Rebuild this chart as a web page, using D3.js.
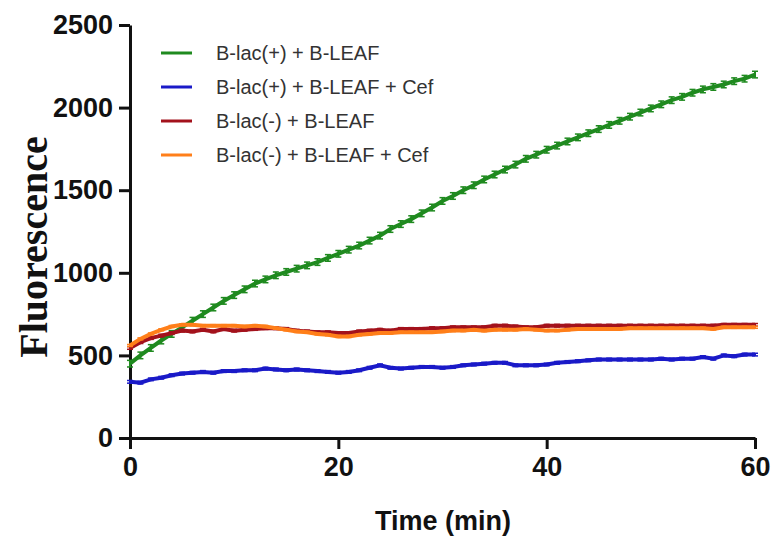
<!DOCTYPE html>
<html><head><meta charset="utf-8">
<script src="https://cdn.jsdelivr.net/npm/d3@7"></script>
<style>body{margin:0;background:#fff;} svg{display:block;}</style>
</head><body><svg id="c" width="773" height="543"></svg>
<script>
const time = d3.range(0, 61); // minutes
const seriesNames = ["B-lac(+) + B-LEAF", "B-lac(+) + B-LEAF + Cef", "B-lac(-) + B-LEAF", "B-lac(-) + B-LEAF + Cef"];
const seriesColors = ["#1f8a1f", "#1a1ac8", "#a3121c", "#ff7f1a"];
const greenVals = [450,500,545,590,630,670,710,750,790,830,865,900,935,960,985,1005,1025,1045,1065,1090,1115,1140,1165,1195,1225,1265,1295,1325,1360,1395,1435,1465,1500,1530,1565,1595,1625,1655,1690,1715,1745,1770,1795,1820,1845,1870,1895,1920,1945,1970,1995,2020,2045,2065,2090,2110,2125,2140,2160,2175,2200];
const blueVals = [340,335,355,365,380,390,395,400,395,405,405,410,410,420,415,410,415,410,405,400,395,400,410,425,440,425,420,425,430,430,425,430,440,445,450,455,455,440,440,440,445,455,460,465,470,475,475,475,475,475,475,480,475,480,480,490,480,500,495,505,505];
const redVals = [545,580,605,620,635,650,645,655,645,660,650,655,660,665,665,660,650,645,640,640,635,635,645,650,655,650,660,660,660,665,665,670,670,670,670,680,680,675,670,670,680,680,680,680,680,680,680,680,680,680,680,680,680,680,680,680,680,685,685,685,685];
const orangeVals = [560,600,630,655,675,685,685,680,680,680,680,675,680,675,665,655,645,640,630,625,615,615,625,630,635,635,640,640,640,640,645,650,650,655,650,655,655,655,660,655,650,650,655,660,660,660,660,660,665,665,665,665,665,665,665,665,660,670,670,670,670];
const seriesVals = [greenVals, blueVals, redVals, orangeVals];
const errBar = [20, 8, 8, 6];
const xTicks = [0, 20, 40, 60];
const yTicks = [0, 500, 1000, 1500, 2000, 2500];

const svg = d3.select("#c");
const x = d3.scaleLinear().domain([0, 60]).range([130, 755]);
const y = d3.scaleLinear().domain([0, 2500]).range([438, 25]);

// axes
const yAxis = svg.append("g").attr("transform", "translate(130,0)")
  .call(d3.axisLeft(y).tickValues(yTicks).tickFormat(d3.format("d")).tickSize(11).tickPadding(6).tickSizeOuter(0));
const xAxis = svg.append("g").attr("transform", "translate(0,438)")
  .call(d3.axisBottom(x).tickValues(xTicks).tickFormat(d3.format("d")).tickSize(11).tickPadding(5).tickSizeOuter(0));
[yAxis, xAxis].forEach(g => {
  g.select(".domain").attr("stroke", "#111").attr("stroke-width", 3);
  g.selectAll(".tick line").attr("stroke", "#111").attr("stroke-width", 3);
  g.selectAll(".tick text").attr("fill", "#111").attr("font-family", "Liberation Sans, Arial, sans-serif")
    .attr("font-weight", "bold").attr("font-size", 27);
});
xAxis.selectAll(".tick text").attr("dy", "0.8em");

// lines
const line = d3.line().x((d, i) => x(time[i])).y(d => y(d));
seriesVals.forEach((vals, s) => {
  const g = svg.append("g");
  g.append("path").datum(vals).attr("d", line).attr("fill", "none")
    .attr("stroke", seriesColors[s]).attr("stroke-width", 4);
  g.selectAll("line.eb").data(vals).join("line").attr("class", "eb")
    .attr("x1", (d, i) => x(time[i])).attr("x2", (d, i) => x(time[i]))
    .attr("y1", d => y(d - errBar[s])).attr("y2", d => y(d + errBar[s]))
    .attr("stroke", seriesColors[s]).attr("stroke-width", 2);
  g.selectAll("line.cap").data(vals.flatMap((d, i) => [[i, d + errBar[s]], [i, d - errBar[s]]])).join("line").attr("class", "cap")
    .attr("x1", d => x(time[d[0]]) - 3).attr("x2", d => x(time[d[0]]) + 3)
    .attr("y1", d => y(d[1])).attr("y2", d => y(d[1]))
    .attr("stroke", seriesColors[s]).attr("stroke-width", 1.5);
});

// legend
const lg = svg.append("g");
seriesNames.forEach((n, i) => {
  const yy = 53 + i * 34;
  lg.append("line").attr("x1", 161).attr("x2", 192).attr("y1", yy).attr("y2", yy)
    .attr("stroke", seriesColors[i]).attr("stroke-width", 3);
  lg.append("text").attr("x", 216).attr("y", yy + 7).text(n)
    .attr("font-family", "Liberation Sans, Arial, sans-serif").attr("font-size", 20).attr("fill", "#333");
});

// axis titles
svg.append("text").attr("x", 443).attr("y", 530).attr("text-anchor", "middle")
  .attr("font-family", "Liberation Sans, Arial, sans-serif").attr("font-weight", "bold")
  .attr("font-size", 27).attr("fill", "#111").text("Time (min)");
svg.append("text").attr("transform", "translate(47,247) rotate(-90)").attr("text-anchor", "middle")
  .attr("font-family", "Liberation Serif, Times New Roman, serif").attr("font-weight", "bold")
  .attr("font-size", 40).attr("fill", "#111").text("Fluorescence");
</script></body></html>
